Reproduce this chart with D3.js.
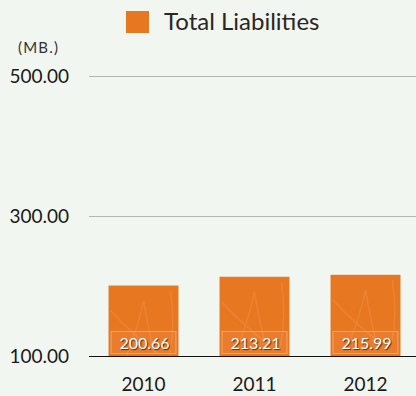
<!DOCTYPE html>
<html>
<head>
<meta charset="utf-8">
<script src="https://cdnjs.cloudflare.com/ajax/libs/d3/7.8.5/d3.min.js"></script>
<style>
  body { margin: 0; background: #f2f6f0; }
  svg { display: block; font-family: Lato, "Open Sans", sans-serif; }
</style>
</head>
<body>
<div id="chart"></div>
<script>
// Chart data
const years = ["2010", "2011", "2012"];
const liabilities = [200.66, 213.21, 215.99];
const tickValues = [100, 300, 500];
const seriesName = "Total Liabilities";
const unitLabel = "(MB.)";

const width = 416;
const height = 396;

const svg = d3
  .select("#chart")
  .append("svg")
  .attr("width", width)
  .attr("height", height);

svg.append("rect")
  .attr("width", width)
  .attr("height", height)
  .attr("fill", "#f2f6f0");

// Scales
const xScale = d3.scaleBand()
  .domain(years)
  .range([88, 421])
  .paddingInner(0.37)
  .paddingOuter(0.185);

const yScale = d3.scaleLinear()
  .domain([100, 500])
  .range([356, 76]);

// Gridlines
svg.append("g")
  .selectAll("line")
  .data(tickValues.filter((t) => t !== 100))
  .enter()
  .append("line")
  .attr("x1", 89)
  .attr("x2", width)
  .attr("y1", (d) => Math.round(yScale(d)) + 0.5)
  .attr("y2", (d) => Math.round(yScale(d)) + 0.5)
  .attr("stroke", "#b4b6b2")
  .attr("stroke-width", 1);

// Y tick labels
svg.append("g")
  .selectAll("text")
  .data(tickValues)
  .enter()
  .append("text")
  .attr("x", 69)
  .attr("y", (d) => yScale(d) + 7)
  .attr("text-anchor", "end")
  .attr("font-size", 19)
  .attr("fill", "#1a1a1a")
  .text((d) => d3.format(".2f")(d));

// Unit label
svg.append("text")
  .attr("x", 18)
  .attr("y", 53)
  .attr("font-size", 15)
  .attr("letter-spacing", 1.2)
  .attr("fill", "#333")
  .text(unitLabel);

// Bars
const bars = svg.append("g")
  .selectAll("g")
  .data(years.map((y, i) => ({ year: y, value: liabilities[i] })))
  .enter()
  .append("g");

bars.append("rect")
  .attr("x", (d) => xScale(d.year))
  .attr("y", (d) => yScale(d.value))
  .attr("width", xScale.bandwidth())
  .attr("height", (d) => yScale(100) - yScale(d.value))
  .attr("fill", "#e87722");

// Faint decorative strokes on the bars
bars.append("path")
  .attr("d", (d) => {
    const x0 = xScale(d.year);
    const y0 = yScale(d.value);
    const w = xScale.bandwidth();
    return `M${x0 + 2},${y0 + 25} Q${x0 + 25},${y0 + 50} ${x0 + 50},${y0 + 68}` +
      ` M${x0 + 18},${y0 + 70} Q${x0 + 30},${y0 + 40} ${x0 + 35},${y0 + 15} Q${x0 + 40},${y0 + 45} ${x0 + 46},${y0 + 68}` +
      ` M${x0 + w - 8},${y0 + 5} Q${x0 + w - 3},${y0 + 40} ${x0 + w - 9},${y0 + 70}`;
  })
  .attr("fill", "none")
  .attr("stroke", "rgba(255,200,140,0.16)")
  .attr("stroke-width", 1.5);

// Value boxes
bars.append("rect")
  .attr("x", (d) => xScale(d.year) + 2.5)
  .attr("y", yScale(100) - 24.5)
  .attr("width", xScale.bandwidth() - 5)
  .attr("height", 22)
  .attr("fill", "rgba(255,255,255,0.05)")
  .attr("stroke", "rgba(255,220,190,0.45)")
  .attr("stroke-width", 1);

bars.append("text")
  .attr("x", (d) => xScale(d.year) + xScale.bandwidth() / 2 + 1)
  .attr("y", yScale(100) - 7.5)
  .attr("text-anchor", "middle")
  .attr("font-size", 16)
  .attr("fill", "#fff")
  .style("text-shadow", "1px 1px 1px rgba(60,20,0,0.8)")
  .text((d) => d3.format(".2f")(d.value));

// Baseline
svg.append("line")
  .attr("x1", 89)
  .attr("x2", width)
  .attr("y1", yScale(100) + 0.5)
  .attr("y2", yScale(100) + 0.5)
  .attr("stroke", "#111")
  .attr("stroke-width", 1);

// X axis labels
svg.append("g")
  .selectAll("text")
  .data(years)
  .enter()
  .append("text")
  .attr("x", (d) => xScale(d) + xScale.bandwidth() / 2)
  .attr("y", 391)
  .attr("text-anchor", "middle")
  .attr("font-size", 19)
  .attr("fill", "#1a1a1a")
  .text((d) => d);

// Legend
svg.append("rect")
  .attr("x", 126)
  .attr("y", 11)
  .attr("width", 23)
  .attr("height", 22)
  .attr("fill", "#e87722");

svg.append("text")
  .attr("x", 164)
  .attr("y", 30)
  .attr("font-size", 24)
  .attr("fill", "#2a2626")
  .text(seriesName);
</script>
</body>
</html>
